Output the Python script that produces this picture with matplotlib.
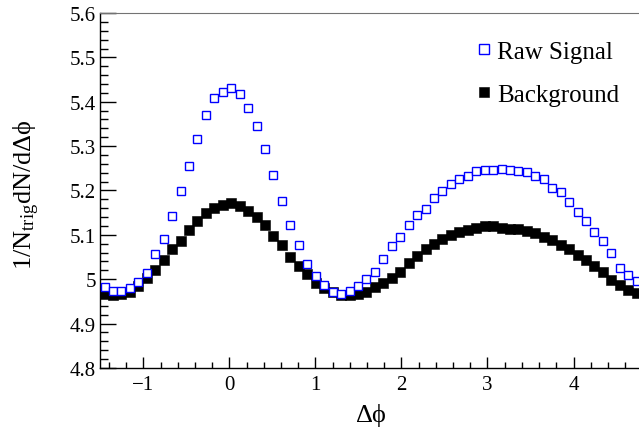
import numpy as np
import matplotlib
matplotlib.use("Agg")
import matplotlib.pyplot as plt

plt.rcParams['font.family'] = ['Liberation Serif', 'DejaVu Serif']
plt.rcParams['mathtext.fontset'] = 'custom'
plt.rcParams['mathtext.rm'] = 'Liberation Serif'
plt.rcParams['mathtext.it'] = 'Liberation Serif:italic'

# 64 bins over 2pi, starting at -1.5
n_bins = 64
edges = np.linspace(-1.5, -1.5 + 2 * np.pi, n_bins + 1)
dphi = 0.5 * (edges[:-1] + edges[1:])

raw_signal = [4.982, 4.974, 4.974, 4.980, 4.993, 5.014, 5.056, 5.090,
              5.143, 5.199, 5.256, 5.315, 5.370, 5.408, 5.423, 5.432,
              5.417, 5.387, 5.346, 5.293, 5.235, 5.176, 5.122, 5.076,
              5.035, 5.008, 4.987, 4.971, 4.967, 4.974, 4.985, 5.001,
              5.017, 5.046, 5.074, 5.094, 5.122, 5.145, 5.158, 5.183,
              5.198, 5.215, 5.226, 5.232, 5.243, 5.246, 5.246, 5.248,
              5.246, 5.243, 5.242, 5.232, 5.226, 5.205, 5.196, 5.175,
              5.152, 5.132, 5.107, 5.085, 5.058, 5.025, 5.010, 4.995]

background = [4.967, 4.964, 4.967, 4.971, 4.985, 5.002, 5.021, 5.044,
              5.067, 5.087, 5.112, 5.132, 5.150, 5.160, 5.167, 5.171,
              5.166, 5.154, 5.140, 5.122, 5.098, 5.077, 5.050, 5.030,
              5.011, 4.992, 4.980, 4.971, 4.965, 4.965, 4.967, 4.971,
              4.982, 4.992, 5.003, 5.017, 5.036, 5.052, 5.067, 5.079,
              5.091, 5.100, 5.106, 5.112, 5.116, 5.119, 5.119, 5.116,
              5.114, 5.113, 5.109, 5.104, 5.096, 5.089, 5.077, 5.067,
              5.055, 5.044, 5.029, 5.016, 4.999, 4.987, 4.976, 4.968]

fig = plt.figure(figsize=(6.39, 4.31), dpi=100)
ax = fig.add_axes([0.157, 0.144, 0.846, 0.8235])

ax.plot(dphi, raw_signal, ls='none', marker='s', ms=6.2, mfc='white',
        mec='#0000ff', mew=1.0, label='Raw Signal', zorder=3)
ax.plot(dphi, background, ls='none', marker='s', ms=6.9, mfc='black',
        mec='black', mew=0.4, label='Background', zorder=2)

ax.set_xlim(edges[0], edges[-1])
ax.set_ylim(4.8, 5.6)
ax.set_xticks([-1, 0, 1, 2, 3, 4])
ax.set_xticks(np.arange(-1.4, 4.8, 0.2), minor=True)
ax.set_yticks([4.8, 4.9, 5.0, 5.1, 5.2, 5.3, 5.4, 5.5, 5.6])
ax.set_yticklabels(['4.8', '4.9', '5', '5.1', '5.2', '5.3', '5.4', '5.5', '5.6'])
ax.set_yticks(np.arange(4.8, 5.6001, 0.02), minor=True)

ax.tick_params(axis='both', which='both', direction='in', labelsize=15,
               top=False, right=False, width=1)
ax.tick_params(axis='y', which='major', length=11.5, pad=3)
ax.tick_params(axis='y', which='minor', length=6)
ax.tick_params(axis='x', which='major', length=8, pad=5)
ax.tick_params(axis='x', which='minor', length=4)

ax.spines['top'].set_color('0.45')
ax.spines['right'].set_visible(False)
for s in ['left', 'bottom']:
    ax.spines[s].set_linewidth(1)

ax.set_xlabel(r'$\mathregular{\Delta\phi}$', fontsize=19)
ax.xaxis.set_label_coords(0.5, -0.092)
ax.set_ylabel(r'$\mathregular{1/N_{trig}dN/d\Delta\phi}$', fontsize=19)
ax.yaxis.set_label_coords(-0.108, 0.49)

ax.legend(loc='upper left', bbox_to_anchor=(0.672, 0.958), frameon=False,
          fontsize=18, handlelength=0.6, handletextpad=0.25,
          labelspacing=0.82, borderpad=0, markerscale=1.1)

fig.savefig('out.png', dpi=100)
